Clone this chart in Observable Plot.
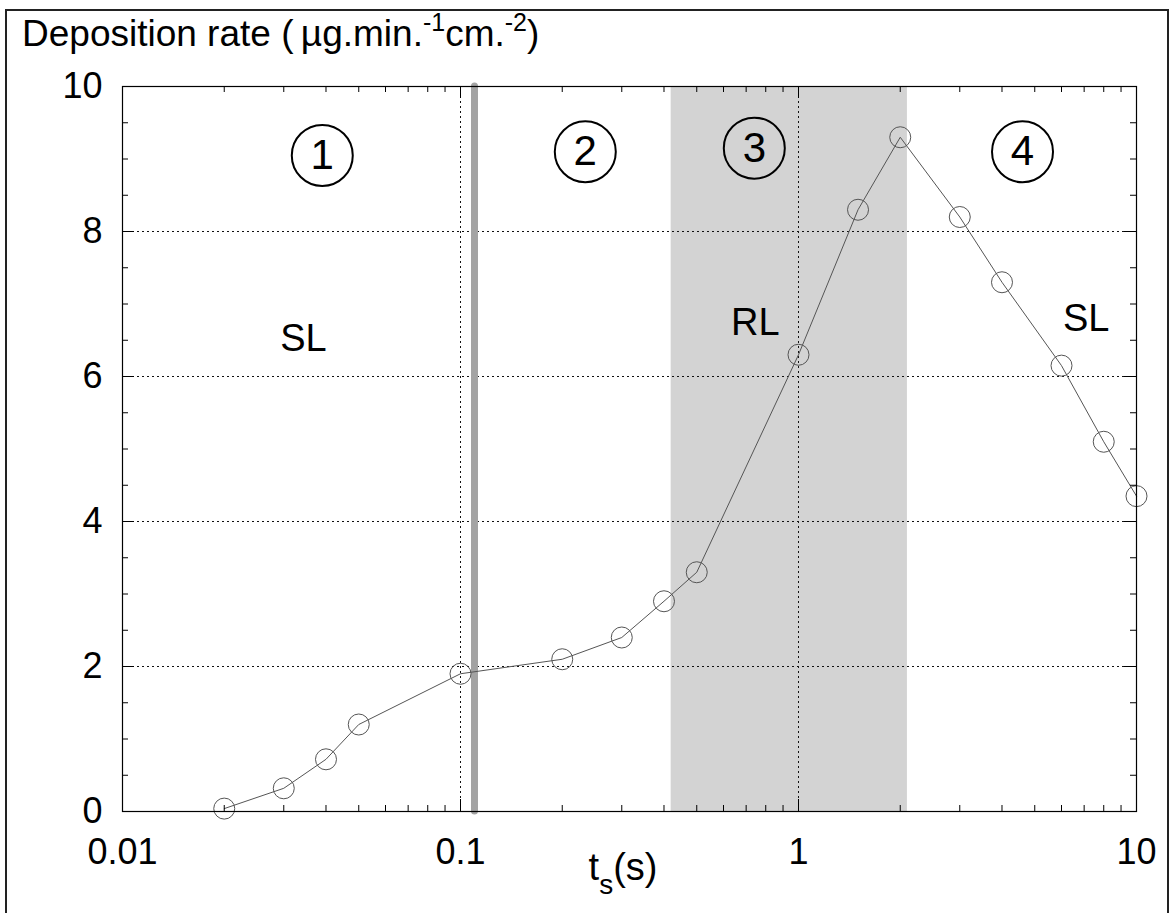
<!DOCTYPE html>
<html><head><meta charset="utf-8">
<script src="https://cdn.jsdelivr.net/npm/d3@7"></script>
<script src="https://cdn.jsdelivr.net/npm/@observablehq/plot@0.6"></script>
<style>
html,body{margin:0;padding:0;background:#fff;}
#wrap{position:relative;width:1171px;height:913px;overflow:hidden;background:#fff;}
#chart{position:absolute;left:0;top:0;}
#border{position:absolute;left:5px;top:9px;width:1164px;height:940px;border:2px solid #222;box-sizing:border-box;pointer-events:none;}
</style></head><body>
<div id="wrap"><div id="chart"></div><div id="border"></div></div>
<script>
// ---- data ----
const times = [0.02, 0.03, 0.04, 0.05, 0.1, 0.2, 0.3, 0.4, 0.5, 1, 1.5, 2, 3, 4, 6, 8, 10];
const rates = [0.04, 0.32, 0.72, 1.2, 1.9, 2.1, 2.4, 2.9, 3.3, 6.3, 8.3, 9.3, 8.2, 7.3, 6.15, 5.1, 4.35];
const xTickValues = [0.01, 0.1, 1, 10];
const yTickValues = [0, 2, 4, 6, 8, 10];
const xGridValues = [0.1, 1];
const yGridValues = [2, 4, 6, 8];
const xMinorValues = [0.02,0.03,0.04,0.05,0.06,0.07,0.08,0.09,0.2,0.3,0.4,0.5,0.6,0.7,0.8,0.9,2,3,4,5,6,7,8,9];
const yMinorValues = [0.5,1,1.5,2.5,3,3.5,4.5,5,5.5,6.5,7,7.5,8.5,9,9.5];
const bandStart = [0.42];
const bandEnd = [2.1];
const barrierTimes = [0.11];
const zoneNames = ["1", "2", "3", "4"];
const zoneTimes = [0.039, 0.234, 0.74, 4.6];
const zoneRates = [9.05, 9.1, 9.15, 9.1];
const regimeNames = ["SL", "RL", "SL"];
const regimeTimes = [0.0343, 0.745, 7.1];
const regimeRates = [6.52, 6.74, 6.79];

// ---- tables ----
const points = times.map((t, i) => ({t, r: rates[i]}));
const band = bandStart.map((s, i) => ({s, e: bandEnd[i]}));
const zones = zoneNames.map((n, i) => ({n, t: zoneTimes[i], r: zoneRates[i]}));
const regimes = regimeNames.map((n, i) => ({n, t: regimeTimes[i], r: regimeRates[i]}));

const W = 1171, H = 913, mL = 122, mR = 35, mT = 86, mB = 102;
const fw = W - mL - mR, fh = H - mT - mB;
const major = 12, minor = 6;
const FONT = "'Liberation Sans', Arial, Helvetica, sans-serif";

const plot = Plot.plot({
  width: W, height: H,
  marginLeft: mL, marginRight: mR, marginTop: mT, marginBottom: mB,
  style: {fontFamily: FONT, background: "transparent", overflow: "visible"},
  x: {type: "log", domain: [0.01, 10]},
  y: {domain: [0, 10]},
  marks: [
    Plot.rect(band, {x1: "s", x2: "e", fill: "#d3d3d3"}),
    Plot.ruleX(xGridValues, {stroke: "#111", strokeWidth: 1, strokeDasharray: "2,3"}),
    Plot.ruleY(yGridValues, {stroke: "#111", strokeWidth: 1, strokeDasharray: "2,3"}),
    Plot.ruleX(barrierTimes, {stroke: "#a3a3a3", strokeWidth: 7, strokeLinecap: "round"}),
    Plot.line(points, {x: "t", y: "r", stroke: "#555", strokeWidth: 1}),
    Plot.dot(points, {x: "t", y: "r", r: 10.5, stroke: "#555", strokeWidth: 1, fill: "none"}),
    Plot.frame({stroke: "#000", strokeWidth: 1.2}),
    // inward ticks, all four sides
    Plot.ruleX(xTickValues, {insetTop: fh - major, stroke: "#000"}),
    Plot.ruleX(xTickValues, {insetBottom: fh - major, stroke: "#000"}),
    Plot.ruleX(xMinorValues, {insetTop: fh - minor, stroke: "#000"}),
    Plot.ruleX(xMinorValues, {insetBottom: fh - minor, stroke: "#000"}),
    Plot.ruleY(yTickValues, {insetRight: fw - major, stroke: "#000"}),
    Plot.ruleY(yTickValues, {insetLeft: fw - major, stroke: "#000"}),
    Plot.ruleY(yMinorValues, {insetRight: fw - minor, stroke: "#000"}),
    Plot.ruleY(yMinorValues, {insetLeft: fw - minor, stroke: "#000"}),
    Plot.axisX(xTickValues, {tickSize: 0, tickPadding: 27, fontSize: 36, tickFormat: d => String(d), label: null, fill: "#000"}),
    Plot.axisY(yTickValues, {tickSize: 0, tickPadding: 20, fontSize: 36, tickFormat: d => String(d), label: null, fill: "#000"}),
    Plot.dot(zones, {x: "t", y: "r", r: 30.5, stroke: "#000", strokeWidth: 2, fill: "none"}),
    Plot.text(zones, {x: "t", y: "r", text: "n", fontSize: 42, fill: "#000"}),
    Plot.text(regimes, {x: "t", y: "r", text: "n", fontSize: 38, fill: "#000"})
  ]
});
document.getElementById("chart").appendChild(plot);

// axis titles with super/subscripts
const svg = d3.select(plot);
const yl = svg.append("text").attr("x", 22).attr("y", 46)
  .attr("text-anchor", "start")
  .attr("font-family", FONT).attr("font-size", 37).attr("fill", "#000");
yl.append("tspan").text("Deposition rate (\u2009µg.min.");
yl.append("tspan").attr("font-size", 25).attr("dy", -15).text("-1");
yl.append("tspan").attr("dy", 15).text("cm.");
yl.append("tspan").attr("font-size", 25).attr("dy", -15).text("-2");
yl.append("tspan").attr("dy", 15).text(")");

const xl = svg.append("text").attr("x", mL + fw / 2 - 6).attr("y", 880)
  .attr("text-anchor", "middle")
  .attr("font-family", FONT).attr("font-size", 38).attr("fill", "#000");
xl.append("tspan").text("t");
xl.append("tspan").attr("font-size", 28).attr("dy", 14).text("s");
xl.append("tspan").attr("dy", -14).text("(s)");
</script>
</body></html>
